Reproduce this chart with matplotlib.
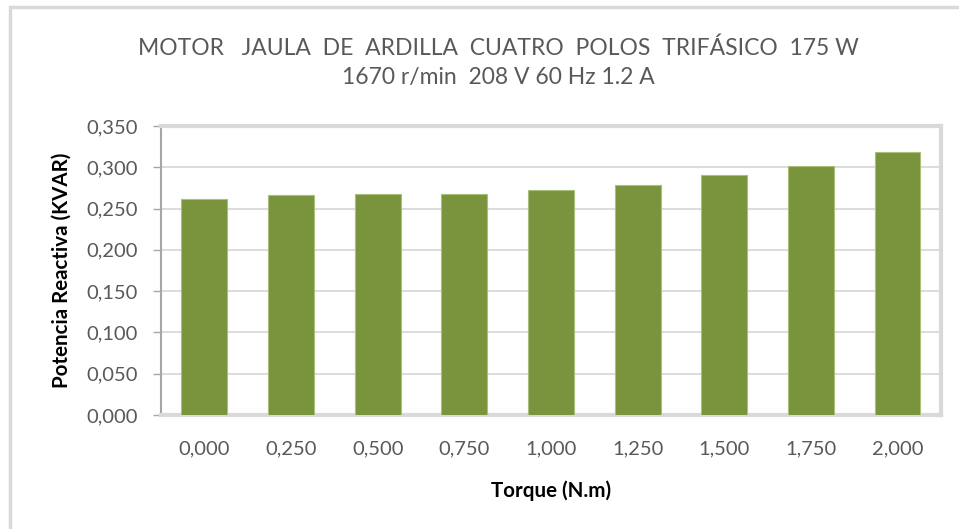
import matplotlib.pyplot as plt
import matplotlib.patches as mpatches
import numpy as np

# fuente y estilo general
plt.rcParams['font.family'] = ['Lato', 'DejaVu Sans']
plt.rcParams['font.size'] = 12

# datos: torque (N.m) y potencia reactiva (KVAR)
torque = ['0,000', '0,250', '0,500', '0,750', '1,000', '1,250', '1,500', '1,750', '2,000']
potencia_reactiva = [0.262, 0.266, 0.268, 0.268, 0.273, 0.279, 0.290, 0.301, 0.318]
yticks = [0.0, 0.05, 0.10, 0.15, 0.20, 0.25, 0.30, 0.35]

titulo = 'MOTOR   JAULA  DE  ARDILLA  CUATRO  POLOS  TRIFÁSICO  175 W\n1670 r/min  208 V 60 Hz 1.2 A'

fig = plt.figure(figsize=(9.59, 5.29), dpi=100)
ax = fig.add_axes([0.168, 0.2155, 0.813, 0.5465])

# marco del grafico
fig.patches.append(mpatches.Rectangle((10 / 959, -0.1), 1.2, 1 - 7 / 529 + 0.1,
                                      transform=fig.transFigure, fill=False,
                                      edgecolor='#d9d9d9', linewidth=2.5))

x = np.arange(len(torque))
ax.bar(x, potencia_reactiva, width=0.53, color='#7a943d', edgecolor='#a9bf7a',
       linewidth=0.8, zorder=3)

ax.set_xlim(-0.5, len(torque) - 0.5)
ax.set_ylim(0, 0.35)
ax.set_xticks(x)
ax.set_xticklabels(torque)
ax.set_yticks(yticks)
ax.set_yticklabels(['{:.3f}'.format(v).replace('.', ',') for v in yticks])

ax.grid(axis='y', color='#d9d9d9', linewidth=1.3, zorder=0)
ax.set_axisbelow(True)

for lado in ['top', 'right', 'bottom']:
    ax.spines[lado].set_color('#d9d9d9')
    ax.spines[lado].set_linewidth(3)
ax.spines['left'].set_color('#a6a6a6')
ax.spines['left'].set_linewidth(1.5)

ax.tick_params(axis='x', length=0, pad=18, labelsize=14.5, labelcolor='#595959')
ax.tick_params(axis='y', length=6, width=1, color='#a6a6a6', direction='out',
               pad=11, labelsize=14.5, labelcolor='#595959')

ax.set_xlabel('Torque (N.m)', fontweight='bold', fontsize=14.8, labelpad=17)
ax.set_ylabel('Potencia Reactiva (KVAR)', fontweight='bold', fontsize=14.8, labelpad=10.5)

fig.text(0.5195, 0.881, titulo, ha='center', va='center', fontsize=16.5,
         color='#595959', linespacing=1.5)

plt.savefig('out.png', dpi=100)
